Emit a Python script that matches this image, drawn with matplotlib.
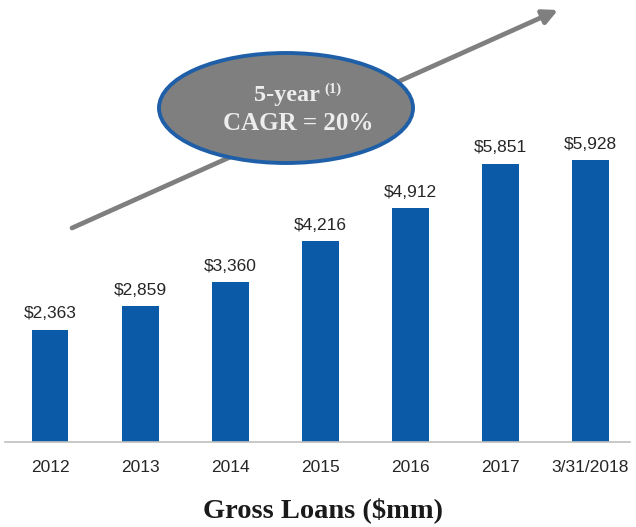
import matplotlib
matplotlib.use("Agg")
import matplotlib.pyplot as plt
from matplotlib.patches import Ellipse

# Data
periods = ["2012", "2013", "2014", "2015", "2016", "2017", "3/31/2018"]
gross_loans = [2363, 2859, 3360, 4216, 4912, 5851, 5928]
value_labels = ["$2,363", "$2,859", "$3,360", "$4,216", "$4,912", "$5,851", "$5,928"]

BAR_COLOR = "#0B5AA8"
W, H = 636, 527

fig = plt.figure(figsize=(W / 100, H / 100), dpi=100)

# axes spans from the baseline (pixel y=442) up to the top of the figure
ax = fig.add_axes([5 / W, (H - 442) / H, 625 / W, 442 / H])
x = list(range(len(periods)))
ax.bar(x, gross_loans, width=0.41, color=BAR_COLOR, zorder=2)
ax.set_xlim(-0.5, 6.44)
ax.set_ylim(0, 9292)

for xi, v, lab in zip(x, gross_loans, value_labels):
    ax.annotate(lab, (xi, v), xytext=(0, 6), textcoords="offset points",
                ha="center", va="bottom", fontsize=12.5,
                family="Liberation Sans", color="#262626")

for s in ["top", "right", "left"]:
    ax.spines[s].set_visible(False)
ax.spines["bottom"].set_color("#BFBFBF")
ax.spines["bottom"].set_linewidth(1.2)
ax.set_yticks([])
ax.set_xticks(x)
ax.set_xticklabels(periods, fontsize=12.5, family="Liberation Sans", color="#262626")
ax.tick_params(axis="x", length=0, pad=13)


def px(px_x, px_y):
    return (px_x / W, 1 - px_y / H)


# growth arrow
fig.patches.append(matplotlib.patches.FancyArrowPatch(
    px(72, 228), px(558, 10), transform=fig.transFigure,
    arrowstyle="-|>", mutation_scale=22, lw=3.4, color="#7F7F7F",
    shrinkA=0, shrinkB=0, zorder=3))

# CAGR ellipse
fig.patches.append(Ellipse(px(286, 108), 254 / W, 110 / H, transform=fig.transFigure,
                           facecolor="#7F7F7F", edgecolor="#1F5FA8", lw=2.8, zorder=4))

fig.text(*px(287, 96), "5-year", ha="center", va="center", fontsize=17.5,
         family="Liberation Serif", weight="bold", color="#EDEDED", zorder=5)
fig.text(*px(333, 89), "(1)", ha="center", va="center", fontsize=10.5,
         family="Liberation Serif", weight="bold", color="#EDEDED", zorder=5)
fig.text(*px(298, 124), "CAGR = 20%", ha="center", va="center", fontsize=18,
         family="Liberation Serif", weight="bold", color="#EDEDED", zorder=5)

fig.text(*px(323, 510), "Gross Loans ($mm)", ha="center", va="center", fontsize=20.5,
         family="Liberation Serif", weight="bold", color="#1A1A1A")

fig.savefig("out.png", dpi=100)
